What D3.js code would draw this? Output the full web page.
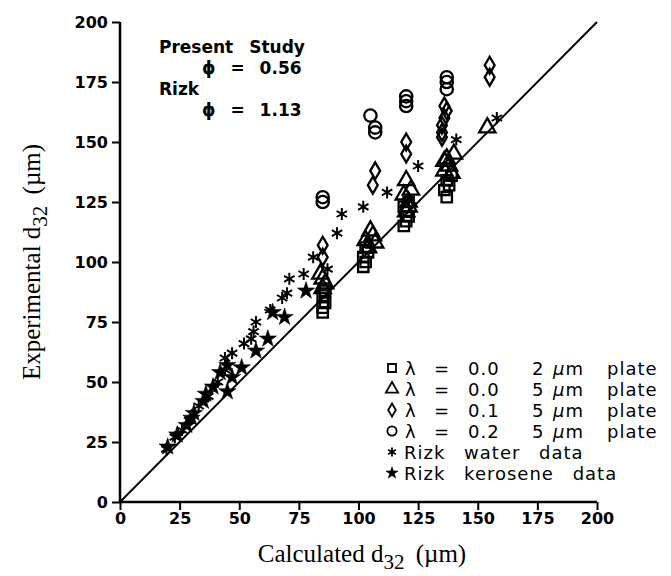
<!DOCTYPE html>
<html>
<head>
<meta charset="utf-8">
<script src="https://cdn.jsdelivr.net/npm/d3@7"></script>
<style>
	body { margin: 0; background: #fff; }
	svg { display: block; }
	.tick text { font-family: "DejaVu Sans", sans-serif; font-weight: bold; font-size: 16px; }
</style>
</head>
<body>
<svg id="chart" width="671" height="576"></svg>
<script>
// axis ticks
const tickValues = [0, 25, 50, 75, 100, 125, 150, 175, 200];

// present study, [calculated, experimental]
const squares2um = [
	[85, 79], [85, 81], [86, 83], [85, 86], [86, 88],
	[102, 98], [103, 100], [102, 102], [104, 104], [103, 106],
	[119, 115], [120, 117], [121, 119], [120, 121], [119, 123], [121, 125],
	[137, 127], [136, 130], [138, 132], [137, 134], [139, 136]
];
const triangles5um = [
	[85, 89], [86, 91], [85, 93], [84, 95],
	[104, 106], [103, 109], [106, 111], [105, 113], [107, 108],
	[120, 121], [121, 125], [119, 128], [122, 130], [120, 134], [121, 123],
	[136, 138], [138, 140], [137, 143], [140, 145], [139, 137], [136, 142],
	[154, 156]
];
const diamonds5um = [
	[85, 102], [85, 107],
	[106, 132], [107, 138],
	[120, 145], [120, 150],
	[135, 152], [135, 154], [135, 157], [136, 160], [137, 163], [136, 165],
	[155, 177], [155, 182]
];
const circles5um = [
	[85, 125], [85, 127],
	[105, 161], [107, 156], [107, 154],
	[120, 165], [120, 167], [120, 169],
	[137, 172], [137, 175], [137, 177]
];

// Rizk data
const rizkWater = [
	[19.5, 22], [23, 27], [26, 30], [29, 34], [33, 40], [37, 44], [41, 50], [44, 55],
	[44, 60], [47, 62], [52, 66], [55, 68], [56, 71], [57, 75], [63, 80], [68, 85],
	[70, 87], [71, 93], [77, 95], [81, 102], [87, 97], [91, 112], [93, 120],
	[102, 123], [112, 129], [125, 140], [141, 151], [158, 160]
];
const rizkKerosene = [
	[20, 23], [24, 28], [28, 32], [30, 35], [31, 37], [35, 42], [36, 45], [39, 48],
	[42, 54], [45, 46], [47, 52], [45, 57], [51, 56], [57, 63], [62, 68], [64, 79],
	[69, 77], [78, 88]
];

const legendRows = [
	{ shape: 'square', lambda: '0.0', plate: '2' },
	{ shape: 'triangle', lambda: '0.0', plate: '5' },
	{ shape: 'diamond', lambda: '0.1', plate: '5' },
	{ shape: 'circle', lambda: '0.2', plate: '5' },
	{ shape: 'asterisk', label: 'Rizk water data' },
	{ shape: 'star', label: 'Rizk kerosene data' }
];

const svg = d3.select('#chart');
const x = d3.scaleLinear().domain([0, 200]).range([120, 597]);
const y = d3.scaleLinear().domain([0, 200]).range([502, 22]);

//-- marker shapes --//

function markerPath(shape, r) {
	if (shape === 'square') return d3.symbol(d3.symbolSquare, r * r * 4)();
	if (shape === 'triangle') return d3.symbol(d3.symbolTriangle, r * r * 3.2)();
	if (shape === 'circle') return d3.symbol(d3.symbolCircle, r * r * 3.3)();
	if (shape === 'star') return d3.symbol(d3.symbolStar, r * r * 2.2)();
	if (shape === 'diamond') {
		let w = r * 0.85, h = r * 1.45;
		return 'M0,' + (-h) + 'L' + w + ',0L0,' + h + 'L' + (-w) + ',0Z';
	}
	if (shape === 'asterisk') {
		let p = '';
		for (let i = 0; i < 3; i++) {
			let a = Math.PI / 2 + i * Math.PI / 3;
			let dx = Math.cos(a) * r, dy = Math.sin(a) * r;
			p += 'M' + dx + ',' + dy + 'L' + (-dx) + ',' + (-dy);
		}
		return p;
	}
}

function drawSeries(data, shape, r) {
	let filled = shape === 'star';
	svg.append('g')
		.selectAll('path')
		.data(data)
		.join('path')
		.attr('transform', d => 'translate(' + x(d[0]) + ',' + y(d[1]) + ')')
		.attr('d', markerPath(shape, r))
		.attr('fill', filled ? '#000' : 'none')
		.attr('stroke', '#000')
		.attr('stroke-width', shape === 'asterisk' ? 2 : (filled ? 0.6 : 2.3));
}

//-- axes --//

svg.append('g')
	.attr('transform', 'translate(0,' + y(0) + ')')
	.call(d3.axisBottom(x).tickValues(tickValues).tickSize(8).tickPadding(3))
	.call(g => g.select('.domain').attr('stroke-width', 2.5).attr('d', 'M' + x(0) + ',0H' + x(200)))
	.call(g => g.selectAll('.tick line').attr('stroke-width', 2));

svg.append('g')
	.attr('transform', 'translate(' + x(0) + ',0)')
	.call(d3.axisLeft(y).tickValues(tickValues).tickSize(8).tickPadding(4))
	.call(g => g.select('.domain').attr('stroke-width', 2.5).attr('d', 'M0,' + y(0) + 'V' + y(200)))
	.call(g => g.selectAll('.tick line').attr('stroke-width', 2))
	.call(g => g.selectAll('.tick text').attr('dy', '0.36em'));

// 45 degree line
svg.append('line')
	.attr('x1', x(0)).attr('y1', y(0))
	.attr('x2', x(200)).attr('y2', y(200))
	.attr('stroke', '#000')
	.attr('stroke-width', 2);

//-- data --//

drawSeries(rizkWater, 'asterisk', 6);
drawSeries(rizkKerosene, 'star', 6.5);
drawSeries(squares2um, 'square', 5.2);
drawSeries(triangles5um, 'triangle', 6);
drawSeries(diamonds5um, 'diamond', 5.8);
drawSeries(circles5um, 'circle', 6);

//-- axis titles --//

let xTitle = svg.append('text')
	.attr('x', 362).attr('y', 562)
	.attr('text-anchor', 'middle')
	.style('font-family', '"Liberation Serif", "Times New Roman", serif')
	.style('font-size', '25px');
xTitle.append('tspan').text('Calculated d');
xTitle.append('tspan').attr('dy', 7).style('font-size', '21px').text('32');
xTitle.append('tspan').attr('dy', -7).text('\u2009 (\u00b5m)');

let yTitle = svg.append('text')
	.attr('transform', 'translate(40,262) rotate(-90)')
	.attr('text-anchor', 'middle')
	.style('font-family', '"Liberation Serif", "Times New Roman", serif')
	.style('font-size', '25px');
yTitle.append('tspan').text('Experimental d');
yTitle.append('tspan').attr('dy', 7).style('font-size', '21px').text('32');
yTitle.append('tspan').attr('dy', -7).text('\u2009 (\u00b5m)');

//-- top left notes --//

let notes = svg.append('g')
	.style('font-family', '"DejaVu Sans", sans-serif')
	.style('font-weight', 'bold')
	.style('font-size', '17px');
notes.append('text').attr('x', 159).attr('y', 53).style('word-spacing', '10px').text('Present Study');
notes.append('text').attr('x', 202).attr('y', 74).style('word-spacing', '9px').text('\u03d5 = 0.56');
notes.append('text').attr('x', 159).attr('y', 95).text('Rizk');
notes.append('text').attr('x', 202).attr('y', 116).style('word-spacing', '9px').text('\u03d5 = 1.13');

//-- legend --//

let legend = svg.append('g')
	.style('font-family', '"DejaVu Sans", sans-serif')
	.style('font-size', '18px')
	.style('letter-spacing', '1px');

legendRows.forEach(function(row, i) {
	let cy = 368 + i * 21;
	let r = row.shape === 'square' ? 4 : 4.5;

	legend.append('path')
		.attr('transform', 'translate(392,' + cy + ')')
		.attr('d', markerPath(row.shape, r))
		.attr('fill', row.shape === 'star' ? '#000' : 'none')
		.attr('stroke', '#000')
		.attr('stroke-width', row.shape === 'star' ? 0.6 : 1.8);

	if (row.label) {
		legend.append('text')
			.attr('x', 404).attr('y', cy + 7)
			.style('word-spacing', '12px')
			.text(row.label);
		return;
	}
	legend.append('text').attr('x', 405).attr('y', cy + 7).text('\u03bb');
	legend.append('text').attr('x', 434).attr('y', cy + 7).text('=');
	legend.append('text').attr('x', 468).attr('y', cy + 7).text(row.lambda);
	legend.append('text').attr('x', 532).attr('y', cy + 7).text(row.plate);
	legend.append('text').attr('x', 553).attr('y', cy + 7).style('font-style', 'italic').text('\u00b5')
		.append('tspan').style('font-style', 'normal').text('m');
	legend.append('text').attr('x', 607).attr('y', cy + 7).text('plate');
});
</script>
</body>
</html>
